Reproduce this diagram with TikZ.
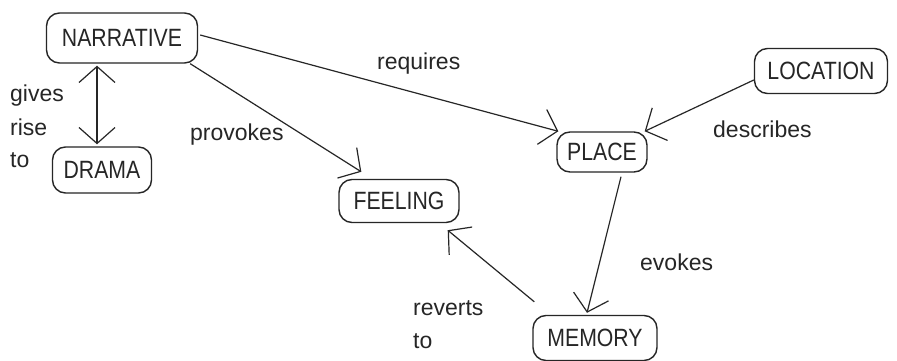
\documentclass[tikz,border=0pt]{standalone}
\usepackage{fontspec}
\setmainfont{Liberation Sans}
\newfontfamily\boxfont[FakeStretch=0.85]{Liberation Sans}
\usetikzlibrary{arrows.meta}
\tikzset{
  concept/.style={draw=black!85, line width=1.4pt, rounded corners=13pt, inner sep=0pt,
    font=\boxfont\fontsize{25}{28}\selectfont, text=black!85},
  lbl/.style={anchor=base west, inner sep=0pt, font=\fontsize{23}{26}\selectfont, text=black!85},
  barb/.tip={Straight Barb[length=16pt,width=36pt,line width=1.2pt]},
  link/.style={draw=black!85, line width=1.2pt, -barb},
  dlink/.style={draw=black!85, line width=1.2pt, barb-barb}
}
\begin{document}
\begin{tikzpicture}[x=1pt,y=-1pt]
\useasboundingbox (0,0) rectangle (897,361);
\fill[white] (0,0) rectangle (897,361);
% concepts
\node[concept, minimum width=151pt, minimum height=50pt] (narr) at (122,38) {NARRATIVE};
\node[concept, minimum width=99pt, minimum height=46pt] (drama) at (102,170) {DRAMA};
\node[concept, minimum width=120pt, minimum height=43pt] (feel) at (399,201) {FEELING};
\node[concept, minimum width=90pt, minimum height=40pt] (place) at (602,152) {PLACE};
\node[concept, minimum width=133pt, minimum height=45pt] (loc) at (821,71) {LOCATION};
\node[concept, minimum width=124pt, minimum height=45pt] (mem) at (595,338) {MEMORY};
% links
\draw[dlink] ([xshift=-25pt,yshift=-2pt]narr.south) -- ([xshift=-5pt,yshift=2pt]drama.north);
\draw[link] ([xshift=2pt,yshift=3pt]narr.east) -- ([xshift=2pt]place.north west);
\draw[link] ([xshift=-8pt]narr.south east) -- ([xshift=23pt,yshift=7pt]feel.north west);
\draw[link] ([yshift=-9pt]loc.west) -- ([xshift=-3pt]place.north east);
\draw[link] ([xshift=19pt,yshift=-4pt]place.south) -- ([xshift=-8pt,yshift=2pt]mem.north);
\draw[link] ([xshift=2pt,yshift=13pt]mem.north west) -- ([xshift=-12pt,yshift=-7pt]feel.south east);
% labels
\node[lbl] (lreq) at (377,70) {requires};
\node[lbl] (lgives) at (10,102) {gives};
\node[lbl] (lrise) at (10,135) {rise};
\node[lbl] (lto) at (10,167) {to};
\node[lbl] (lprov) at (190,140) {provokes};
\node[lbl] (ldesc) at (713,137) {describes};
\node[lbl] (levok) at (640,270) {evokes};
\node[lbl] (lrev) at (413,315) {reverts};
\node[lbl] (lrevto) at (413,348) {to};
\end{tikzpicture}
\end{document}
